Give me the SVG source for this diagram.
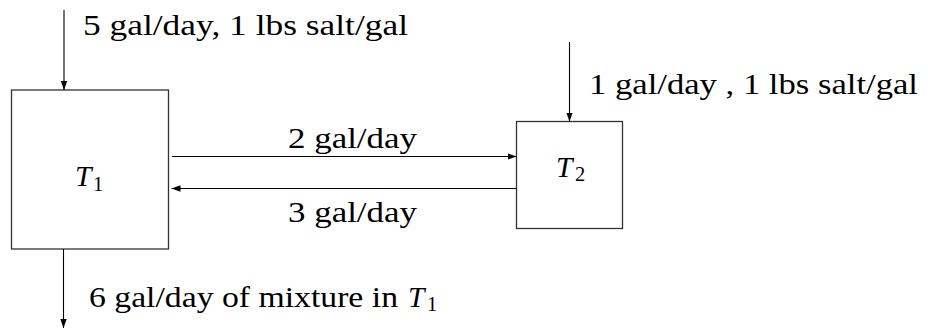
<svg xmlns="http://www.w3.org/2000/svg" width="928" height="329" viewBox="0 0 928 329">
<style>
.box{fill:#fff;stroke:#333;stroke-width:1.3}
.ln{stroke:#000;stroke-width:1.1;fill:none;marker-end:url(#ah)}
.t{font-family:'Liberation Serif','Times New Roman',serif;font-size:29.5px;fill:#000}
.it{font-style:italic}
.sub{font-size:20.5px}
</style>
<defs>
<marker id="ah" markerUnits="userSpaceOnUse" markerWidth="10" markerHeight="8" refX="9" refY="4" orient="auto">
<path d="M0,0.8 L9,4 L0,7.2 Z" fill="#000"/>
</marker>
</defs>
<rect width="928" height="329" fill="#fff"/>
<g id="T1">
<rect class="box" x="11.5" y="90" width="157" height="159"/>
<text class="t it" x="75" y="186">T</text>
<text class="t sub" x="93" y="191">1</text>
</g>
<g id="T2">
<rect class="box" x="516.5" y="121.5" width="106" height="107"/>
<text class="t it" x="556" y="177">T</text>
<text class="t sub" x="575" y="181">2</text>
</g>
<g id="connectors">
<line class="ln" x1="64" y1="10" x2="64" y2="90"/>
<line class="ln" x1="569.5" y1="42" x2="569.5" y2="121.5"/>
<line class="ln" x1="172" y1="156.5" x2="516.5" y2="156.5"/>
<line class="ln" x1="516.5" y1="188.5" x2="171.5" y2="188.5"/>
<line class="ln" x1="63.5" y1="249" x2="63.5" y2="328"/>
</g>
<g id="labels">
<text class="t" x="83" y="35" textLength="325" lengthAdjust="spacingAndGlyphs">5 gal/day, 1 lbs salt/gal</text>
<text class="t" x="589" y="94" textLength="329" lengthAdjust="spacingAndGlyphs">1 gal/day , 1 lbs salt/gal</text>
<text class="t" x="288" y="148" textLength="129" lengthAdjust="spacingAndGlyphs">2 gal/day</text>
<text class="t" x="288" y="221.5" textLength="129" lengthAdjust="spacingAndGlyphs">3 gal/day</text>
<text class="t" x="89" y="306.5" textLength="309" lengthAdjust="spacingAndGlyphs">6 gal/day of mixture in</text>
<text class="t it" x="408" y="306.5">T</text>
<text class="t sub" x="427" y="311">1</text>
</g>
</svg>
